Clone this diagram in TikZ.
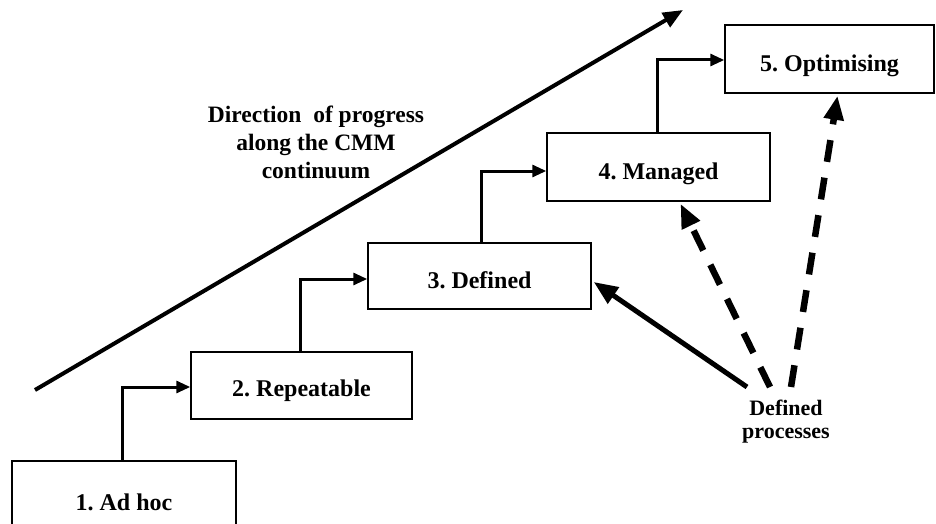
\documentclass[tikz,border=0pt]{standalone}
\usepackage{fontspec}
\setmainfont{Liberation Serif}
\usetikzlibrary{arrows.meta,calc}
\newcommand{\lowtxt}[2][6pt]{\raisebox{-#1}[\height][\depth]{#2}}
\begin{document}
\frenchspacing
\begin{tikzpicture}[x=1pt,y=-1pt,
  box/.style={draw,line width=1.5pt,fill=white,inner sep=0pt,font=\fontsize{24}{28}\selectfont\bfseries},
  conn/.style={line width=3pt,-{Triangle[length=14pt,width=12pt]}},
  bigarrow/.style={line width=4pt,-{Triangle[length=20pt,width=16pt]}},
  solidarrow/.style={line width=5pt,-{Triangle[length=24pt,width=19pt]}},
  dasharrow/.style={line width=6.5pt,dash pattern=on 22pt off 16pt,-{Triangle[length=24pt,width=19pt]}},
  lbl/.style={font=\fontsize{23.5}{28}\selectfont\bfseries,align=center,inner sep=0pt},
  dlbl/.style={font=\fontsize{22}{23}\selectfont\bfseries,align=center,inner sep=0pt}]
\useasboundingbox (0,0) rectangle (936,524);
\clip (0,0) rectangle (936,524);
\node[box,minimum width=224pt,minimum height=82pt] (b1) at (124,502) {1. Ad hoc};
\node[box,minimum width=221pt,minimum height=67pt] (b2) at (301.5,385.5) {\lowtxt[5pt]{2. Repeatable}};
\node[box,minimum width=223pt,minimum height=66pt] (b3) at (479.5,276) {\lowtxt[4pt]{3. Defined}};
\node[box,minimum width=223pt,minimum height=68pt] (b4) at (658.5,167) {\lowtxt[7pt]{4. Managed}};
\node[box,minimum width=209pt,minimum height=68pt] (b5) at (829.5,59) {\lowtxt[7pt]{5. Optimising}};
\draw[conn] ($(b1.north)+(-2,0)$) |- ($(b2.west)+(0,1.5)$);
\draw[conn] ($(b2.north)+(-1.5,0)$) |- ($(b3.west)+(0,3)$);
\draw[conn] ($(b3.north)+(1.5,0)$) |- ($(b4.west)+(0,4)$);
\draw[conn] ($(b4.north)+(-1.5,0)$) |- ($(b5.west)+(0,1)$);
\coordinate (d0) at (35,390);
\coordinate (d1) at (683,10);
\draw[bigarrow] (d0) -- (d1);
\node[lbl] (dir) at (316,142) {Direction\ \ of progress\\along the CMM\\continuum};
\node[dlbl] (dp) at (786,422) {Defined\\processes};
\coordinate (s1) at (747,387);
\coordinate (s2) at (770,387);
\coordinate (s3) at (791,387);
\draw[solidarrow] (s1) -- ($(b3.east)+(2,6)$);
\draw[dasharrow] (s2) -- ($(b4.south)+(22,2)$);
\draw[dasharrow] (s3) -- ($(b5.south)+(8,2)$);
\end{tikzpicture}
\end{document}
